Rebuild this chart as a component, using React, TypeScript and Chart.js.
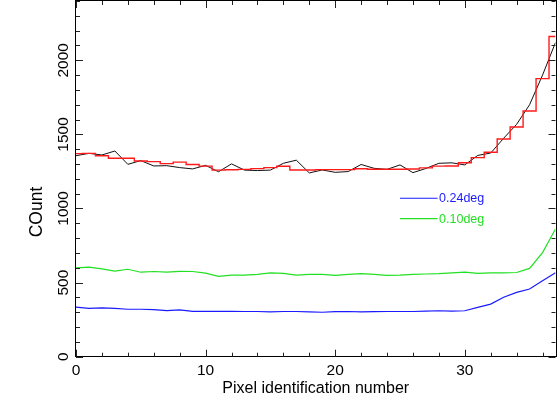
import React, { useEffect, useRef } from "react";
import { Chart, registerables } from "chart.js";

Chart.register(...registerables);

// ---- data ----
const pixelIds = [
  0, 1, 2, 3, 4, 5, 6, 7, 8, 9, 10, 11, 12, 13, 14, 15, 16, 17, 18, 19,
  20, 21, 22, 23, 24, 25, 26, 27, 28, 29, 30, 31, 32, 33, 34, 35, 36, 37,
];

const blackCounts = [
  1356, 1372, 1361, 1388, 1298, 1323, 1287, 1289, 1276, 1267, 1291, 1248, 1301, 1259,
  1256, 1259, 1305, 1326, 1240, 1260, 1244, 1249, 1297, 1271, 1264, 1294, 1242, 1270,
  1305, 1308, 1294, 1358, 1374, 1474, 1568, 1700, 1900, 2120,
];

const redCounts = [
  1370, 1372, 1356, 1339, 1339, 1320, 1316, 1303, 1313, 1297, 1286, 1259, 1261, 1264,
  1269, 1276, 1285, 1260, 1260, 1262, 1262, 1262, 1268, 1265, 1265, 1265, 1266, 1274,
  1286, 1287, 1309, 1343, 1379, 1469, 1550, 1658, 1876, 2160,
];

const greenCounts = [
  599, 604, 592, 578, 590, 570, 575, 570, 576, 575, 564, 542, 550, 551, 556, 566, 562,
  551, 556, 556, 549, 556, 560, 556, 549, 551, 556, 558, 560, 565, 571, 562, 565, 566,
  568, 596, 702, 862,
];

const blueCounts = [
  335, 326, 330, 326, 320, 320, 318, 311, 316, 306, 306, 306, 306, 305, 305, 302, 305,
  305, 302, 300, 304, 305, 302, 304, 305, 305, 305, 308, 310, 308, 310, 333, 355, 401,
  434, 457, 513, 567,
];

const xMajorTicks = [0, 10, 20, 30];
const yMajorTicks = [0, 500, 1000, 1500, 2000];
const X_MIN = 0;
const X_MAX = 37;
const Y_MIN = 0;
const Y_MAX = 2400;
const X_MINOR_STEP = 2;
const Y_MINOR_STEP = 100;

const xTitle = "Pixel identification number";
const yTitle = "COunt";

const legendLabels = ["0.24deg", "0.10deg"];
const legendX = [25, 27.9];
const legendY = [1069, 931];

const FONT = '"Liberation Sans", Arial, Helvetica, sans-serif';

const toXY = (ys: number[]) => ys.map((y, i) => ({ x: pixelIds[i], y }));

const framePlugin = {
  id: "idlFrame",
  afterDraw(chart: any) {
    const ctx = chart.ctx as CanvasRenderingContext2D;
    const { left, right, top, bottom } = chart.chartArea;
    const xs = chart.scales.x;
    const ys = chart.scales.y;
    ctx.save();
    // frame
    ctx.strokeStyle = "#000";
    ctx.lineWidth = 1;
    ctx.strokeRect(Math.round(left) - 0.5, Math.round(top) - 0.5, Math.round(right - left) + 1, Math.round(bottom - top));

    ctx.strokeStyle = "#222";
    ctx.beginPath();
    // x ticks (top & bottom)
    for (let v = X_MIN; v <= X_MAX; v += X_MINOR_STEP) {
      const px = Math.round(xs.getPixelForValue(v)) + 0.5;
      const len = xMajorTicks.includes(v) ? 7 : 4;
      ctx.moveTo(px, bottom);
      ctx.lineTo(px, bottom - len);
      ctx.moveTo(px, top);
      ctx.lineTo(px, top + len);
    }
    // y ticks (left & right)
    for (let v = Y_MIN; v <= Y_MAX; v += Y_MINOR_STEP) {
      const py = Math.round(ys.getPixelForValue(v)) + 0.5;
      const len = yMajorTicks.includes(v) ? 7 : 4;
      ctx.moveTo(left, py);
      ctx.lineTo(left + len, py);
      ctx.moveTo(right, py);
      ctx.lineTo(right - len, py);
    }
    ctx.stroke();

    // x tick labels
    ctx.fillStyle = "#000";
    ctx.font = `15.5px ${FONT}`;
    ctx.textAlign = "center";
    ctx.textBaseline = "alphabetic";
    for (const v of xMajorTicks) {
      ctx.fillText(String(v), xs.getPixelForValue(v), 375);
    }
    // y tick labels (rotated)
    for (const v of yMajorTicks) {
      ctx.save();
      ctx.translate(67.5, ys.getPixelForValue(v));
      ctx.rotate(-Math.PI / 2);
      ctx.fillText(String(v), 0, 0);
      ctx.restore();
    }
    // axis titles
    ctx.font = `16px ${FONT}`;
    ctx.fillText(xTitle, (left + right) / 2, 392.5);
    ctx.save();
    ctx.font = `17.5px ${FONT}`;
    ctx.translate(41.5, 212);
    ctx.rotate(-Math.PI / 2);
    ctx.fillText(yTitle, 0, 0);
    ctx.restore();

    // legend text
    ctx.font = `12.5px ${FONT}`;
    ctx.textAlign = "left";
    ctx.textBaseline = "middle";
    const colors = ["#1a1aff", "#22e022"];
    legendLabels.forEach((lab, i) => {
      ctx.fillStyle = colors[i];
      ctx.fillText(lab, xs.getPixelForValue(legendX[1]) + 1.5, ys.getPixelForValue(legendY[i]) + 0.5);
    });
    ctx.restore();
  },
};

export default function App() {
  const ref = useRef<HTMLCanvasElement | null>(null);

  useEffect(() => {
    document.body.style.margin = "0";
    const canvas = ref.current;
    if (!canvas) return;
    const chart = new Chart(canvas, {
      type: "line",
      data: {
        datasets: [
          {
            label: "blue",
            data: toXY(blueCounts),
            borderColor: "#1a1aff",
            borderWidth: 1.2,
            pointRadius: 0,
            tension: 0,
          },
          {
            label: "green",
            data: toXY(greenCounts),
            borderColor: "#22e022",
            borderWidth: 1.2,
            pointRadius: 0,
            tension: 0,
          },
          {
            label: "blue legend",
            data: legendX.map((x) => ({ x, y: legendY[0] })),
            borderColor: "#1a1aff",
            borderWidth: 1.2,
            pointRadius: 0,
          },
          {
            label: "green legend",
            data: legendX.map((x) => ({ x, y: legendY[1] })),
            borderColor: "#22e022",
            borderWidth: 1.2,
            pointRadius: 0,
          },
          {
            label: "histogram",
            data: toXY(redCounts),
            borderColor: "#ff1a1a",
            borderWidth: 1.4,
            pointRadius: 0,
            stepped: "middle",
          },
          {
            label: "count",
            data: toXY(blackCounts),
            borderColor: "#111",
            borderWidth: 1,
            pointRadius: 0,
            tension: 0,
          },
        ],
      },
      options: {
        animation: false,
        responsive: false,
        devicePixelRatio: 1,
        layout: { padding: { left: 76, right: 1.5, top: 1, bottom: 37.3 } },
        plugins: { legend: { display: false }, tooltip: { enabled: false } },
        events: [],
        scales: {
          x: { type: "linear", min: X_MIN, max: X_MAX, display: false },
          y: { type: "linear", min: Y_MIN, max: Y_MAX, display: false },
        },
      },
      plugins: [framePlugin],
    });
    return () => chart.destroy();
  }, []);

  return (
    <div style={{ position: "absolute", left: 0, top: 0, width: 557, height: 394, background: "#fff" }}>
      <canvas ref={ref} width={557} height={394} />
    </div>
  );
}
